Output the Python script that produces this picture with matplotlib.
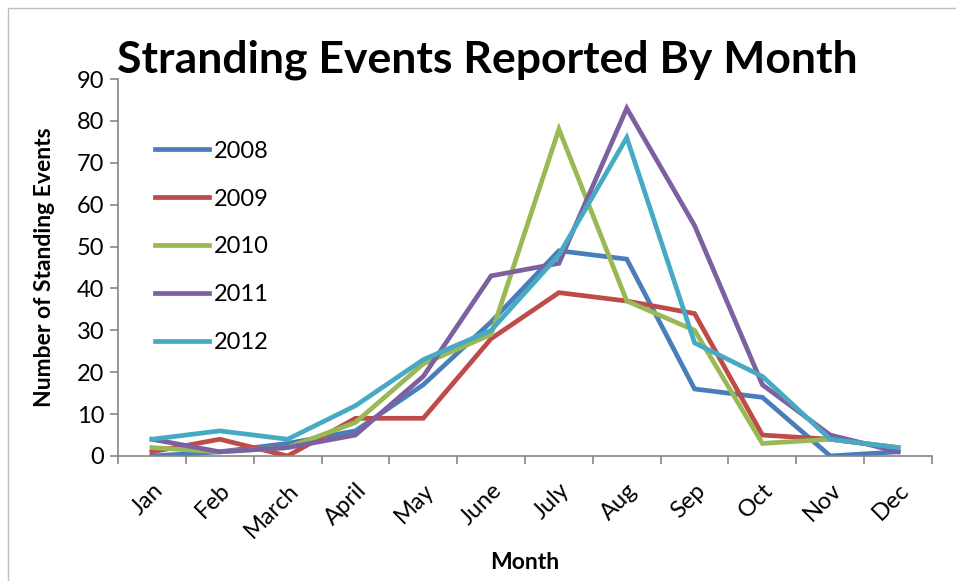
import matplotlib
matplotlib.use("Agg")
import matplotlib.pyplot as plt
from matplotlib.patches import Rectangle

months = ['Jan', 'Feb', 'March', 'April', 'May', 'June', 'July', 'Aug', 'Sep', 'Oct', 'Nov', 'Dec']
years = ['2008', '2009', '2010', '2011', '2012']
y2008 = [0, 1, 3, 6, 17, 32, 49, 47, 16, 14, 0, 1]
y2009 = [1, 4, 0, 9, 9, 28, 39, 37, 34, 5, 4, 2]
y2010 = [2, 1, 2, 8, 22, 29, 78, 37, 30, 3, 4, 2]
y2011 = [4, 1, 2, 5, 19, 43, 46, 83, 55, 17, 5, 1]
y2012 = [4, 6, 4, 12, 23, 30, 48, 76, 27, 19, 4, 2]
series = [y2008, y2009, y2010, y2011, y2012]
colors = ['#4A7EBB', '#BE4B48', '#98B954', '#7D60A0', '#46AAC5']

plt.rcParams['font.family'] = ['Lato', 'DejaVu Sans']
grey = '#868686'

fig = plt.figure(figsize=(9.56, 5.81), dpi=100)
fig.patches.append(Rectangle((8/956, -0.1), 1.2, 1 - 8/581 + 0.1, transform=fig.transFigure,
                             fill=False, edgecolor='#BFBFBF', linewidth=1))
ax = fig.add_axes([118/956, 1 - 456/581, (932-118)/956, (456-79)/581])

x = list(range(len(months)))
for yr, vals, c in zip(years, series, colors):
    ax.plot(x, vals, color=c, linewidth=3.4, label=yr, solid_joinstyle='miter')

ax.set_xlim(-0.5, len(months) - 0.5)
ax.set_ylim(0, 90)
ax.set_yticks(range(0, 91, 10))
ax.set_xticks(x)
ax.set_xticklabels(months, rotation=45, fontsize=17)
ax.set_xticks([i - 0.5 for i in range(len(months) + 1)], minor=True)
ax.tick_params(axis='x', which='major', length=0, pad=17)
ax.tick_params(axis='x', which='minor', length=6, direction='out', color=grey, width=1.2)
ax.tick_params(axis='y', length=6, direction='out', color=grey, width=1.2, labelsize=17, pad=4)
for lab in ax.get_xticklabels():
    lab.set_ha('right')
    lab.set_rotation_mode('anchor')
for s in ['top', 'right']:
    ax.spines[s].set_visible(False)
for s in ['left', 'bottom']:
    ax.spines[s].set_color(grey)
    ax.spines[s].set_linewidth(1.2)

ax.set_ylabel('Number of Standing Events', fontsize=16.5, fontweight='bold')
ax.yaxis.set_label_coords(-0.078, 0.5)
ax.set_xlabel('Month', fontsize=16.5, fontweight='bold')
ax.xaxis.set_label_coords(0.5, -0.255)
fig.text(0.51, 0.897, 'Stranding Events Reported By Month', ha='center', va='center',
         fontsize=32, fontweight='bold')

ax.legend(loc='upper left', bbox_to_anchor=(0.019, 0.893), frameon=False, fontsize=17,
          handlelength=2.3, handletextpad=0.2, labelspacing=1.14)

fig.savefig('out.png', dpi=100)
